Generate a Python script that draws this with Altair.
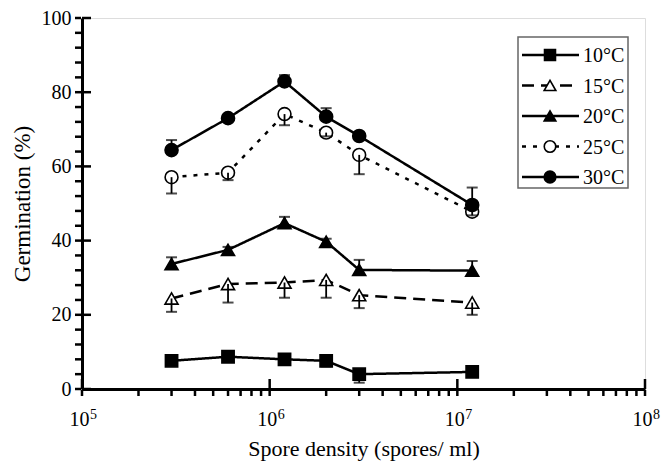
import altair as alt
import pandas as pd

# ---- data ----
density = [3e5, 6e5, 1.2e6, 2e6, 3e6, 1.2e7]
series_names = ["10°C", "15°C", "20°C", "25°C", "30°C"]
g10 = [7.6, 8.7, 8.0, 7.6, 4.0, 4.6]
e10 = [0.0, 0.0, 0.0, 1.5, 2.3, 0.0]
g15 = [24.4, 28.3, 28.7, 29.4, 25.3, 23.3]
e15 = [3.6, 5.0, 4.1, 4.8, 3.5, 3.3]
g20 = [33.7, 37.5, 44.7, 39.7, 32.1, 31.9]
e20 = [1.8, 0.8, 1.7, 0.8, 2.7, 2.6]
g25 = [57.1, 58.3, 74.1, 69.1, 63.1, 47.8]
e25 = [4.4, 2.0, 3.0, 1.0, 5.2, 1.0]
g30 = [64.4, 73.0, 82.9, 73.4, 68.2, 49.6]
e30 = [2.7, 0.8, 1.7, 2.3, 0.8, 4.7]
err_dir = [-1, -1, 1, -1, 1]  # error bar drawn below (-1) or above (+1)

x_major = [1e5, 1e6, 1e7, 1e8]
x_major_base = ["10", "10", "10", "10"]
x_major_exp = ["5", "6", "7", "8"]
y_major = [0, 20, 40, 60, 80, 100]

# ---- styles ----
FONT = "Liberation Serif"
styles = [
    dict(shape="square", fill="black", dash=[1, 0], size=150, sw=2.5),
    dict(shape="triangle-up", fill="white", dash=[12, 7], size=170, sw=2.5),
    dict(shape="triangle-up", fill="black", dash=[1, 0], size=170, sw=2.5),
    dict(shape="circle", fill="white", dash=[4, 7], size=165, sw=2.5),
    dict(shape="circle", fill="black", dash=[1, 0], size=170, sw=2.5),
]

W, H = 563, 371

x_ticks = [m * 10 ** e for e in range(5, 8) for m in range(1, 10)] + [1e8]
y_ticks = list(range(0, 101, 4))
label_expr = " : ".join(
    f"datum.value == {v:.0f} ? '{l}'" for v, l in zip(x_major, x_major_base)
) + " : ''"

x_axis = alt.Axis(
    values=x_ticks, labelExpr=label_expr, title="Spore density (spores/ ml)",
    ticks=False, domainColor="black",
    domainWidth=3, labelFont=FONT, labelFontSize=20, labelColor="black",
    titleFont=FONT, titleFontSize=22, titleFontWeight="normal", titleColor="black",
    labelPadding=20, titlePadding=9, grid=False, labelFlush=False,
    labelOverlap=False, labelOffset=-3,
)
y_axis = alt.Axis(
    values=y_ticks,
    labelExpr="datum.value % 20 == 0 ? datum.label : ''",
    title="Germination (%)", ticks=False,
    domainColor="black", domainWidth=3, labelFont=FONT, labelFontSize=20,
    labelColor="black", titleFont=FONT, titleFontSize=23,
    titleFontWeight="normal", titleColor="black", labelPadding=11,
    titlePadding=7, grid=False, labelOverlap=False,
)
x_scale = alt.Scale(type="log", domain=[1e5, 1e8], nice=False)
y_scale = alt.Scale(domain=[0, 100], nice=False)
X = alt.X("density:Q", scale=x_scale, axis=x_axis)
Y = alt.Y("germ:Q", scale=y_scale, axis=y_axis)

all_g = [g10, g15, g20, g25, g30]
all_e = [e10, e15, e20, e25, e30]

lines, bars, caps, points = [], [], [], []
for name, g, e, d, st in zip(series_names, all_g, all_e, err_dir, styles):
    df = pd.DataFrame({"density": density, "germ": g, "err": e})
    df["end"] = df["germ"] + d * df["err"]
    base = alt.Chart(df)
    lines.append(
        base.mark_line(color="black", strokeWidth=st["sw"], strokeDash=st["dash"])
        .encode(x=X, y=Y)
    )
    points.append(
        base.mark_point(shape=st["shape"], filled=True, fill=st["fill"],
                        stroke="black", strokeWidth=1.6, size=st["size"], opacity=1)
        .encode(x=X, y=Y)
    )
    bars.append(
        base.mark_rule(color="black", strokeWidth=1.8)
        .encode(x=X, y=Y, y2="end:Q")
    )
    caps.append(
        base.mark_tick(color="black", orient="horizontal", size=11, thickness=2)
        .encode(x=X, y=alt.Y("end:Q", scale=y_scale, axis=y_axis))
    )

# tick marks drawn explicitly: outward for all ticks, inward for major ticks
xout = alt.Chart(pd.DataFrame({"density": x_ticks})).mark_rule(
    color="black", strokeWidth=2.5, clip=False
).encode(x=X, y=alt.value(H + 1), y2=alt.value(H + 7))
yout = alt.Chart(pd.DataFrame({"germ": y_ticks})).mark_rule(
    color="black", strokeWidth=2.5, clip=False
).encode(y=Y, x=alt.value(-1), x2=alt.value(-7))
xin = alt.Chart(pd.DataFrame({"density": x_major})).mark_rule(
    color="black", strokeWidth=2.5
).encode(x=X, y=alt.value(H), y2=alt.value(H - 10))
yin = alt.Chart(pd.DataFrame({"germ": y_major})).mark_rule(
    color="black", strokeWidth=2.5
).encode(y=Y, x=alt.value(0), x2=alt.value(9))

# superscript exponents of the x tick labels
xexp = alt.Chart(pd.DataFrame({"density": x_major, "exp": x_major_exp})).mark_text(
    font=FONT, fontSize=14, align="left", baseline="alphabetic", color="black", dx=8
).encode(x=X, y=alt.value(H + 30), text="exp:N")

# manual legend (layout only)
one = pd.DataFrame({"a": [0]})
LX0, LX1, LY0, LY1 = 436, 546, 19, 170
legend = [
    alt.Chart(one).mark_rect(fill="white", stroke="#666666", strokeWidth=1.5).encode(
        x=alt.value(LX0), x2=alt.value(LX1), y=alt.value(LY0), y2=alt.value(LY1)
    )
]
for i, (name, st) in enumerate(zip(series_names, styles)):
    yy = 37 + 30.5 * i
    legend.append(
        alt.Chart(one).mark_rule(color="black", strokeWidth=st["sw"], strokeDash=st["dash"])
        .encode(x=alt.value(440), x2=alt.value(497), y=alt.value(yy))
    )
    legend.append(
        alt.Chart(one).mark_point(shape=st["shape"], filled=True, fill=st["fill"],
                                  stroke="black", strokeWidth=1.6,
                                  size=st["size"] * 0.8, opacity=1)
        .encode(x=alt.value(468), y=alt.value(yy))
    )
    legend.append(
        alt.Chart(pd.DataFrame({"label": [name]})).mark_text(
            font=FONT, fontSize=20, align="left", baseline="middle", color="black"
        ).encode(x=alt.value(501), y=alt.value(yy + 1), text="label:N")
    )

chart = alt.layer(
    *lines, *points, *bars, *caps, xout, yout, xin, yin, xexp, *legend
).properties(
    width=W, height=H,
    autosize=alt.AutoSizeParams(type="none"),
    padding={"left": 82, "top": 18, "right": 20, "bottom": 73},
).configure_view(stroke=None).configure(background="white")

chart.save("out.html", embed_options={"renderer": "svg", "actions": False})
